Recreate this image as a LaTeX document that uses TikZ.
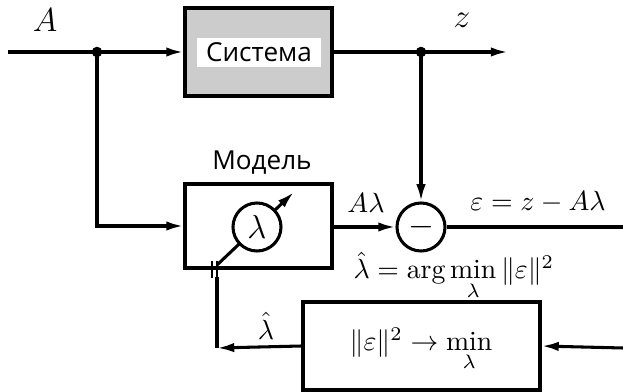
\documentclass[tikz,border=0pt]{standalone}
\usepackage{fontspec}
\newfontfamily\cyrsans{Open Sans}
\usetikzlibrary{arrows.meta}
\begin{document}
\begin{tikzpicture}[x=0.36pt,y=-0.36pt, line width=1.1pt,
  arr/.style={-{Latex[length=6.2pt,width=3.4pt]}},
  blk/.style={draw, line width=1.1pt, inner sep=0pt},
  dot/.style={circle, fill, inner sep=0pt, minimum size=3.8pt},
  rnd/.style={draw, circle, fill=white, line width=1.1pt, inner sep=0pt, minimum size=48*0.36pt},
  lbl/.style={inner sep=0pt},
  cyr/.style={inner sep=0pt, font=\cyrsans\fontsize{9.4}{11}\selectfont}]
\useasboundingbox (0,0) rectangle (623,392);
% blocks
\node[blk, fill=gray!40, minimum width=147*0.36pt, minimum height=88*0.36pt] (sys) at (258.5,52) {};
\node[cyr, fill=white, minimum width=124*0.36pt, minimum height=29*0.36pt] (syslbl) at (259,52.5) {Система};
\node[blk, minimum width=147*0.36pt, minimum height=84*0.36pt] (model) at (258.5,226) {};
\node[cyr, anchor=base] (modlbl) at (262,170) {Модель};
\coordinate (diag0) at (217,265);
\coordinate (diag1) at (294,192);
\draw[arr] (diag0) -- (diag1);
\node[rnd] (lam) at (257,227) {\large$\lambda$};
\node[rnd] (minus) at (421,227) {\large$-$};
\node[blk, minimum width=237*0.36pt, minimum height=88*0.36pt] (opt) at (421.5,346) {};
\node[lbl] (opttxt) at (421,350) {$\|\varepsilon\|^2 \to \min\limits_{\lambda}$};
% coordinates
\coordinate (in) at (8,52);
\node[dot] (dA) at (97,52) {};
\node[dot] (dz) at (421,52) {};
\coordinate (zend) at (508,52);
\coordinate (eend) at (623,227);
\coordinate (optin) at (623,348);
\coordinate (fb) at (217,348);
\coordinate (capb) at (217,277);
% labels
\node[lbl] (lA) at (45,20) {\large$A$};
\node[lbl] (lz) at (462,20) {\large$z$};
\node[lbl] (lAl) at (366,203) {$A\lambda$};
\node[lbl] (leps) at (538,202) {$\varepsilon = z - A\lambda$};
\node[lbl, anchor=base west] (largmin) at (352,279) {$\hat\lambda = \arg\min\limits_{\lambda} \|\varepsilon\|^2$};
\node[lbl] (lhat) at (266,326) {$\hat\lambda$};
% connectors
\draw[arr] (in) -- (sys.west);
\draw[arr] (dA.center) |- (model.west);
\draw[arr] (sys.east) -- (zend);
\draw[arr] (dz.center) -- (minus.north);
\draw[arr] (model.east |- minus.west) -- (minus.west);
\draw (minus.east) -- (eend);
\draw[arr] (optin) -- (opt.east);
\draw[arr] (opt.west) -- (fb);
\draw (fb) -- (capb);
\draw[line width=0.8pt] (212,261) -- (212,278);
\draw[line width=0.8pt] (217,261) -- (217,278);
\end{tikzpicture}
\end{document}
